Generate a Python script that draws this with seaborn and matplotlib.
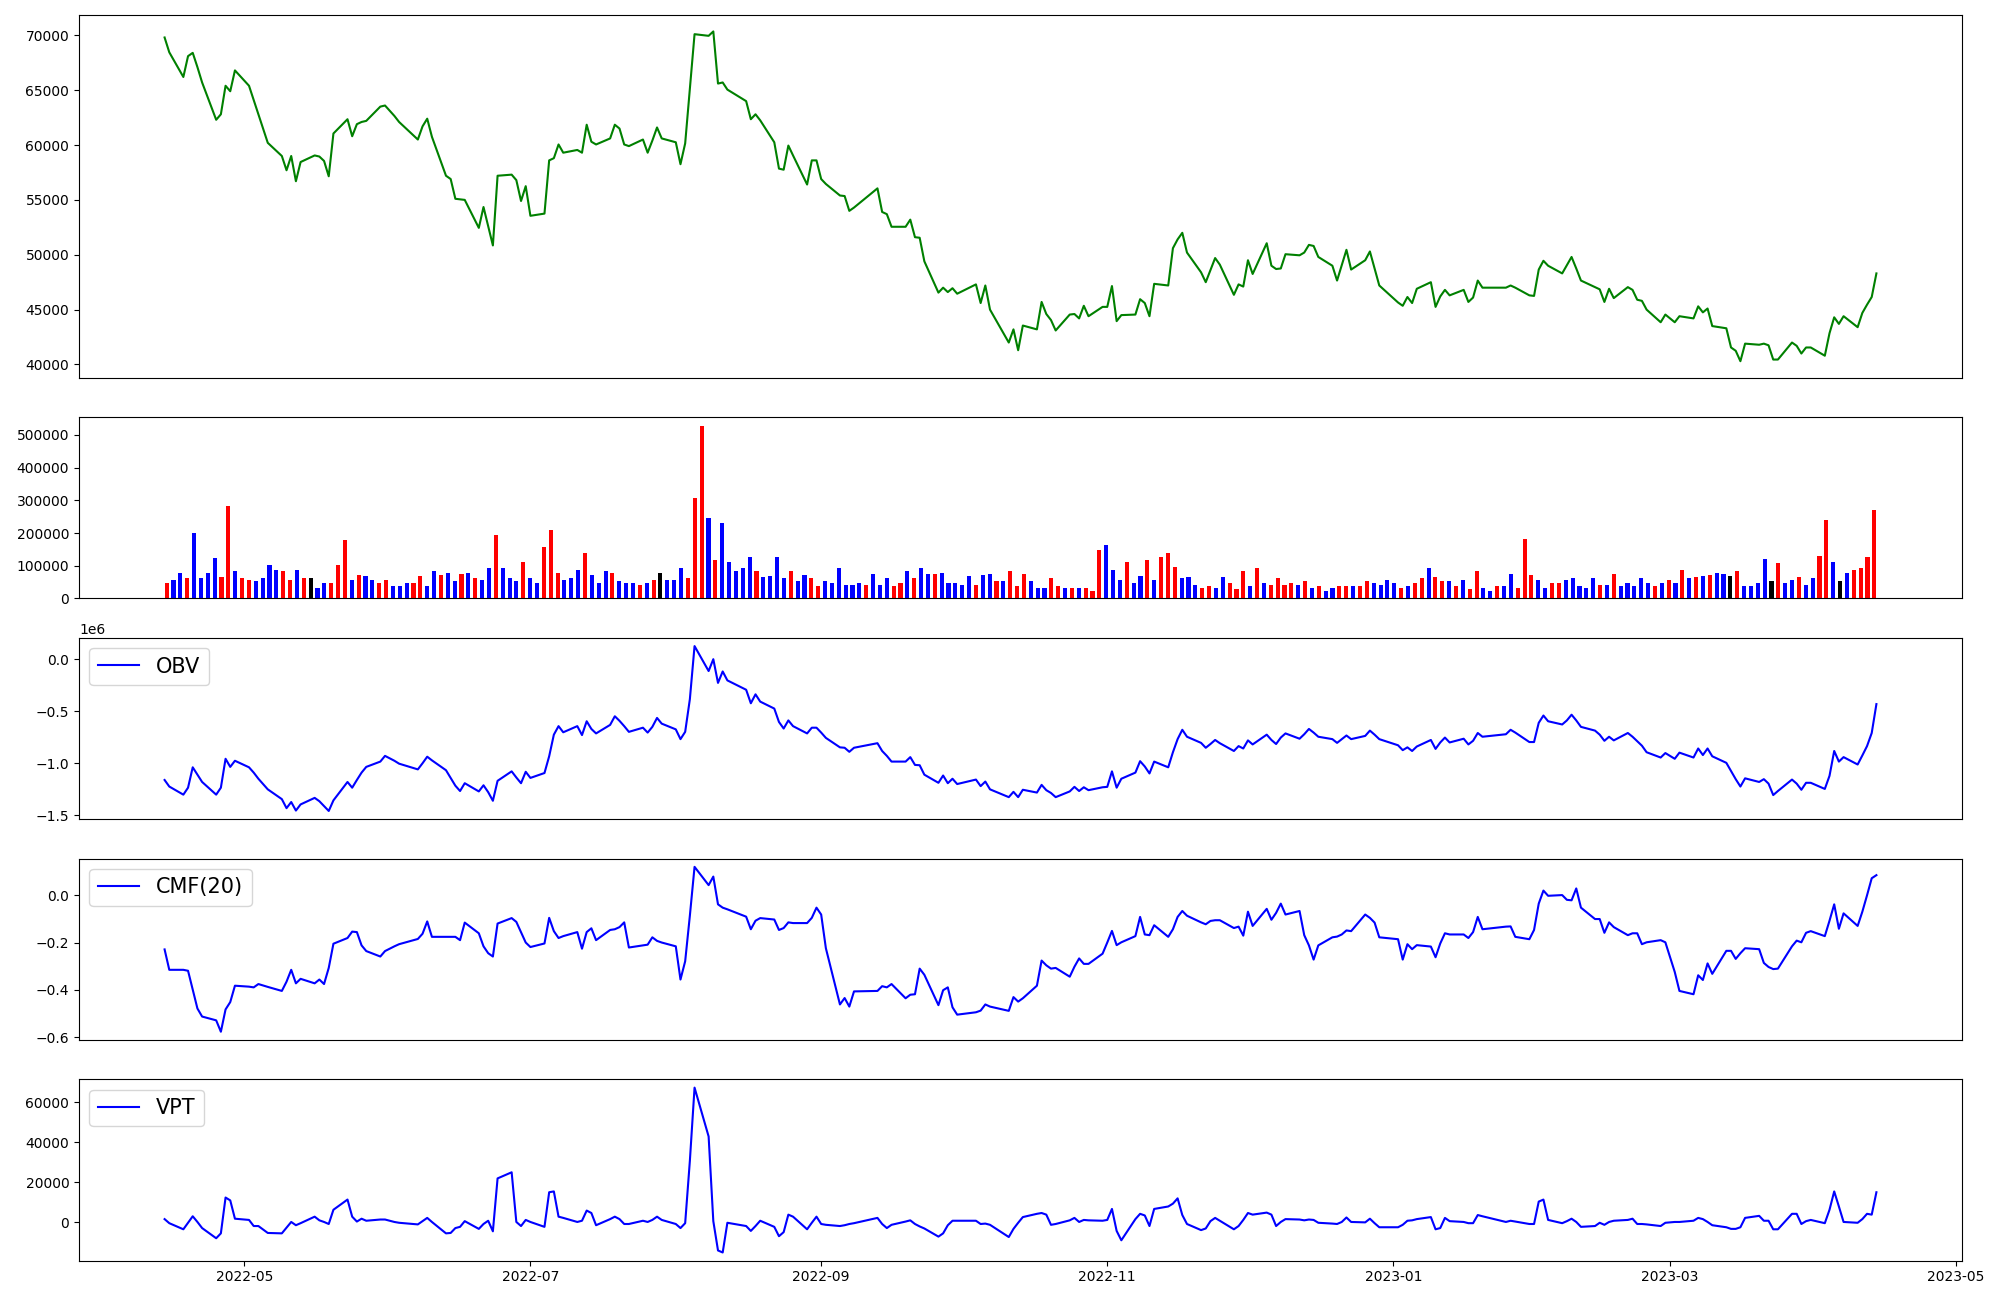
import numpy as np
import pandas as pd
import matplotlib
matplotlib.use("Agg")
import matplotlib.pyplot as plt
import matplotlib.dates as mdates
import seaborn as sns

# ---------------- data ----------------
start_date = "2022-04-14"
end_date = "2023-04-14"
market_holidays = ["2022-05-05", "2022-06-01", "2022-06-06", "2022-08-15",
                   "2022-09-09", "2022-09-12", "2022-10-03", "2022-10-10",
                   "2022-12-30", "2023-01-23", "2023-01-24", "2023-03-01"]

close = [
    # 2022-04
    69800, 68450, 66200, 68100, 68400, 67100, 65700, 62300, 62800, 65400, 64900, 66800,
    # 2022-05
    65400, 64100, 62800, 60200, 59000, 57700, 59000, 56700, 58450, 59050, 58950, 58550,
    57150, 61050, 62350, 60800, 61900, 62100, 62200, 63500, 63600,
    # 2022-06
    62650, 62100, 60500, 61700, 62400, 60750, 57200, 56900, 55100, 55050, 55000, 52450,
    54350, 52600, 50850, 57200, 57300, 56800, 54900, 56250,
    # 2022-07
    53550, 53750, 58600, 58800, 60050, 59300, 59550, 59300, 61850, 60300, 60050, 60600,
    61850, 61500, 60050, 59900, 60500, 59300, 60400, 61600, 60600,
    # 2022-08
    60250, 58250, 60150, 65150, 70100, 69950, 70350, 65600, 65700, 65050, 64000, 62350,
    62800, 62250, 60250, 57850, 57750, 59950, 59050, 56400, 58600, 58600,
    # 2022-09
    56900, 56450, 55400, 55350, 54000, 54300, 56050, 53900, 53700, 52550, 52550, 53200,
    51600, 51550, 49400, 46550, 47000, 46600, 46950, 46450,
    # 2022-10
    47300, 45600, 47200, 45000, 42000, 43200, 41300, 43550, 43200, 45700, 44600, 44050,
    43100, 44550, 44600, 44200, 45350, 44400, 45250,
    # 2022-11
    45250, 47150, 43950, 44500, 44550, 45950, 45600, 44400, 47350, 47200, 50600, 51400,
    52000, 50200, 48400, 47500, 48600, 49700, 49100, 46350, 47300, 47100,
    # 2022-12
    49500, 48250, 51050, 49000, 48700, 48750, 50050, 49950, 50200, 50900, 50800, 49800,
    49000, 47650, 49050, 50450, 48650, 49500, 50300, 48750, 47200,
    # 2023-01
    45650, 45350, 46150, 45600, 46900, 47500, 45250, 46200, 46800, 46300, 46800, 45700,
    46100, 47650, 47000, 47000, 47200, 47000, 46300, 46250,
    # 2023-02
    48650, 49450, 49000, 48300, 49050, 49800, 48750, 47650, 47050, 46850, 45700, 46900,
    46050, 47050, 46800, 45900, 45800, 45000, 43850, 44550,
    # 2023-03
    43850, 44400, 44200, 45300, 44750, 45100, 43500, 43300, 41550, 41250, 40300, 41900,
    41800, 41900, 41750, 40450, 40450, 42000, 41700, 41000, 41550, 41550,
    # 2023-04
    40800, 42850, 44300, 43700, 44400, 43400, 44700, 45450, 46150, 48300,
]

volume = [
    46000, 57000, 79000, 64000, 200000, 64000, 79000, 125000, 66000, 283000,
    83000, 61000, 57000, 52000, 61000, 103000, 88000, 85000, 57000, 88000,
    61000, 61000, 31000, 48000, 46000, 101000, 180000, 55000, 73000, 70000,
    55000, 48000, 55000, 39000, 39000, 46000, 48000, 70000, 37000, 85000,
    73000, 79000, 52000, 76000, 79000, 61000, 57000, 92000, 195000, 92000,
    64000, 52000, 110000, 64000, 48000, 158000, 210000, 79000, 57000, 61000,
    88000, 138000, 73000, 46000, 85000, 79000, 52000, 48000, 46000, 42000,
    46000, 55000, 79000, 55000, 55000, 92000, 64000, 308000, 528000, 247000,
    119000, 232000, 112000, 83000, 92000, 128000, 85000, 66000, 70000, 128000,
    64000, 83000, 52000, 73000, 61000, 39000, 52000, 48000, 92000, 42000,
    42000, 46000, 42000, 76000, 42000, 61000, 39000, 48000, 83000, 61000,
    94000, 76000, 76000, 79000, 48000, 48000, 42000, 70000, 42000, 73000,
    76000, 52000, 52000, 83000, 37000, 76000, 52000, 33000, 33000, 61000,
    37000, 33000, 33000, 31000, 31000, 24000, 149000, 162000, 88000, 55000,
    112000, 48000, 70000, 119000, 57000, 128000, 140000, 97000, 64000, 66000,
    42000, 31000, 37000, 31000, 66000, 46000, 28000, 83000, 39000, 94000,
    48000, 42000, 61000, 42000, 48000, 42000, 52000, 33000, 39000, 24000,
    33000, 37000, 39000, 39000, 37000, 52000, 46000, 42000, 55000, 46000,
    33000, 39000, 46000, 64000, 94000, 66000, 52000, 52000, 37000, 55000,
    28000, 83000, 33000, 24000, 37000, 39000, 76000, 33000, 182000, 73000,
    57000, 33000, 48000, 48000, 55000, 64000, 37000, 31000, 61000, 42000,
    42000, 76000, 39000, 48000, 37000, 64000, 48000, 39000, 48000, 55000,
    46000, 88000, 64000, 66000, 70000, 73000, 79000, 76000, 70000, 85000,
    39000, 37000, 46000, 122000, 52000, 107000, 48000, 55000, 66000, 42000,
    61000, 131000, 241000, 110000, 52000, 79000, 88000, 94000, 128000, 271000,
]

# candle direction of each volume bar: r = up, b = down, k = unchanged
candle = ("rbbrbbbbrr" "brrbbbbrrb" "rkbbrrrbrb" "brrbbbrrbb" "rbbrbrbbrb"
          "bbrbbrrrbb" "brbbbrbbbr" "brkbbbrrrb" "rbbbbbrbbb" "brbbrrbbbb"
          "bbrbbbrrbr" "bbrbbbbbrb" "brbrrrbbbr" "rbrbrrrbbb" "rbbrbrrrbb"
          "brrbbrrrbr" "brrrrbrbrb" "brrbrrbbbb" "rbrrbrrbrb" "rrbbrbbrrr"
          "bbrrbbbbbr" "brbbbbbrbr" "brbrbrbbkr" "bbbbkrbbrb" "brrbkbrrrr")

obv_millions = [
    -1.163, -1.226, -1.304, -1.237, -1.041, -1.112, -1.182, -1.304, -1.237, -0.959, -1.037, -0.978,
    -1.041, -1.092, -1.151, -1.253, -1.347, -1.434, -1.375, -1.457, -1.398, -1.335, -1.367, -1.414,
    -1.461, -1.359, -1.182, -1.237, -1.163, -1.092, -1.037, -0.986, -0.931,
    -0.978, -1.006, -1.061, -1.002, -0.939, -0.974, -1.069, -1.143, -1.218, -1.269, -1.194, -1.273,
    -1.214, -1.280, -1.363, -1.171, -1.080, -1.139, -1.194, -1.084,
    -1.143, -1.096, -0.935, -0.727, -0.645, -0.704, -0.645, -0.731, -0.598, -0.672, -0.715, -0.633,
    -0.550, -0.594, -0.645, -0.700, -0.660, -0.707, -0.652, -0.566, -0.621,
    -0.676, -0.770, -0.700, -0.386, 0.125, -0.115, -0.001, -0.229, -0.119, -0.205, -0.295, -0.425,
    -0.339, -0.409, -0.476, -0.605, -0.668, -0.590, -0.645, -0.715, -0.660, -0.660,
    -0.707, -0.758, -0.849, -0.853, -0.892, -0.853, -0.809, -0.884, -0.931, -0.986, -0.986, -0.943,
    -1.018, -1.021, -1.112, -1.190, -1.120, -1.194, -1.151, -1.202,
    -1.159, -1.222, -1.178, -1.253, -1.328, -1.277, -1.328, -1.257, -1.284, -1.210, -1.261, -1.288,
    -1.328, -1.273, -1.229, -1.269, -1.233, -1.261, -1.233,
    -1.229, -1.080, -1.237, -1.151, -1.092, -0.982, -1.033, -1.100, -0.986, -1.041, -0.896, -0.770,
    -0.680, -0.747, -0.806, -0.853, -0.817, -0.778, -0.809, -0.884, -0.837, -0.860,
    -0.782, -0.821, -0.727, -0.778, -0.817, -0.755, -0.715, -0.766, -0.723, -0.672, -0.707, -0.747,
    -0.770, -0.806, -0.770, -0.735, -0.770, -0.739, -0.688, -0.727, -0.770,
    -0.829, -0.876, -0.849, -0.884, -0.841, -0.778, -0.864, -0.802, -0.755, -0.802, -0.766, -0.821,
    -0.786, -0.711, -0.747, -0.723, -0.680, -0.707, -0.798, -0.798,
    -0.613, -0.543, -0.598, -0.629, -0.590, -0.535, -0.590, -0.652, -0.688, -0.727, -0.786, -0.747,
    -0.782, -0.711, -0.747, -0.790, -0.833, -0.896, -0.947, -0.904,
    -0.959, -0.900, -0.947, -0.860, -0.923, -0.860, -0.935, -0.998, -1.076, -1.155, -1.226, -1.147,
    -1.182, -1.155, -1.198, -1.308, -1.269, -1.159, -1.198, -1.257, -1.190, -1.190,
    -1.249, -1.123, -0.884, -0.986, -0.943, -1.014, -0.927, -0.837, -0.711, -0.433,
]

cmf_20 = [
    -0.229, -0.315, -0.315, -0.319, -0.398, -0.478, -0.512, -0.528, -0.576, -0.482, -0.451, -0.382,
    -0.386, -0.389, -0.375, -0.387, -0.404, -0.365, -0.315, -0.372, -0.353, -0.372, -0.356, -0.375,
    -0.307, -0.205, -0.181, -0.154, -0.156, -0.212, -0.236, -0.259, -0.236,
    -0.216, -0.207, -0.185, -0.163, -0.111, -0.176, -0.176, -0.176, -0.176, -0.190, -0.116, -0.161,
    -0.216, -0.245, -0.259, -0.120, -0.097, -0.113, -0.156, -0.200,
    -0.219, -0.204, -0.096, -0.152, -0.181, -0.173, -0.156, -0.226, -0.156, -0.140, -0.190, -0.147,
    -0.144, -0.135, -0.115, -0.221, -0.212, -0.209, -0.178, -0.193, -0.200,
    -0.216, -0.356, -0.279, -0.087, 0.119, 0.042, 0.078, -0.039, -0.053, -0.060, -0.091, -0.144,
    -0.108, -0.097, -0.103, -0.147, -0.139, -0.115, -0.118, -0.118, -0.096, -0.053,
    -0.082, -0.224, -0.461, -0.434, -0.470, -0.406, -0.404, -0.384, -0.389, -0.375, -0.435, -0.420,
    -0.418, -0.310, -0.336, -0.464, -0.401, -0.389, -0.473, -0.504,
    -0.494, -0.487, -0.461, -0.470, -0.488, -0.430, -0.449, -0.435, -0.382, -0.276, -0.296, -0.310,
    -0.307, -0.344, -0.302, -0.267, -0.290, -0.290, -0.247,
    -0.200, -0.151, -0.211, -0.199, -0.173, -0.092, -0.166, -0.169, -0.127, -0.176, -0.144, -0.092,
    -0.067, -0.087, -0.115, -0.123, -0.109, -0.106, -0.106, -0.139, -0.133, -0.171,
    -0.070, -0.130, -0.058, -0.104, -0.075, -0.036, -0.082, -0.067, -0.169, -0.212, -0.272, -0.212,
    -0.178, -0.175, -0.166, -0.149, -0.152, -0.082, -0.096, -0.116, -0.178,
    -0.186, -0.272, -0.207, -0.228, -0.211, -0.217, -0.262, -0.204, -0.161, -0.166, -0.166, -0.181,
    -0.156, -0.092, -0.144, -0.133, -0.132, -0.176, -0.186, -0.147,
    -0.036, 0.019, -0.003, 0.000, -0.020, -0.022, 0.028, -0.053, -0.101, -0.101, -0.159, -0.115,
    -0.135, -0.169, -0.161, -0.161, -0.207, -0.199, -0.190, -0.199,
    -0.324, -0.404, -0.418, -0.338, -0.358, -0.288, -0.332, -0.235, -0.235, -0.269, -0.245, -0.224,
    -0.228, -0.286, -0.303, -0.312, -0.310, -0.216, -0.192, -0.199, -0.159, -0.152,
    -0.173, -0.108, -0.039, -0.142, -0.077, -0.130, -0.070, -0.001, 0.071, 0.084,
]

vpt = [
    1653, -377, -3422, -174, 3074, 232, -2813, -7888, -5452, 12412, 10991, 1856,
    1247, -1798, -1798, -5249, -5452, -2610, 232, -1392, -377, 2871, 1044, 232,
    -783, 6322, 11397, 2871, 435, 1856, 841, 1450, 1450,
    232, -174, -986, 638, 2262, 232, -5452, -5249, -2813, -2204, 638, -3219,
    -783, 841, -4437, 21953, 24998, 232, -1798, 1247,
    232, -2204, 15051, 15457, 2871, 2262, 232, 841, 5916, 4698, -1392, 1653,
    2871, 1653, -783, -783, 841, 232, 1247, 2871, 1247,
    -783, -2813, -377, 30682, 67222, 42862, 638, -13978, -14993, -174, -1798, -4234,
    -1798, 841, -2204, -6873, -4843, 3886, 2871, -3422, -174, 2871,
    -783, -1189, -1798, -1392, -783, -377, 2262, -783, -2813, -1189, 435, 1044,
    -783, -2001, -3016, -7076, -5452, -1392, 841, 841,
    841, -783, -580, -1189, -7279, -3219, -174, 2668, 4292, 4698, 3886, -1189,
    -783, 1044, 2262, 232, 1247, 1044, 841,
    1247, 6728, -4234, -8903, 1653, 4292, 3480, -1798, 6728, 7946, 9367, 12006,
    3683, -783, -3828, -3016, 638, 2262, 841, -3422, -1798, 1247,
    4698, 3886, 4901, 3886, -1798, 232, 1653, 1450, 1044, 1450, 1247, -174,
    -580, -783, 232, 2465, 232, 29, 1856, -377, -2407,
    -2407, -1189, 841, 1044, 1653, 2668, -3422, -2813, 2262, 638, 232, -377,
    -377, 3683, 3074, 232, 841, 435, -783, -783,
    10382, 11397, 1247, -377, 638, 1856, 232, -2204, -1798, -174, -1189, 232,
    841, 1247, 1856, -783, -783, -986, -1798, -174,
    232, 232, 841, 2262, 1653, 232, -1392, -2407, -3219, -3219, -2407, 2262,
    3277, 841, 841, -3422, -3422, 4292, 4292, -783, 638, 1247,
    -377, 6322, 15457, 7946, 232, -174, 1653, 4292, 3886, 15051,
]

# ---------------- frame ----------------
dates = pd.bdate_range(start_date, end_date, freq="C", holidays=market_holidays)
df = pd.DataFrame({
    "date": dates,
    "close": close,
    "volume": volume,
    "candle": list(candle),
    "obv": np.array(obv_millions) * 1e6,
    "cmf": cmf_20,
    "vpt": vpt,
})
df["idx"] = np.arange(len(df))
n = len(df)

# ---------------- figure ----------------
fig = plt.figure(figsize=(20, 13), dpi=100)
gs = fig.add_gridspec(5, 1, height_ratios=[2, 1, 1, 1, 1],
                      left=0.0395, right=0.981, top=0.9885, bottom=0.0302,
                      hspace=0.181)
ax_price = fig.add_subplot(gs[0])
ax_vol = fig.add_subplot(gs[1])
ax_obv = fig.add_subplot(gs[2], sharex=ax_price)
ax_cmf = fig.add_subplot(gs[3], sharex=ax_price)
ax_vpt = fig.add_subplot(gs[4], sharex=ax_price)

# price
sns.lineplot(data=df, x="date", y="close", color="green", linewidth=1.5, ax=ax_price)

# volume bars (evenly spaced, one per trading day)
bar_w = 0.6
sns.barplot(data=df, x="idx", y="volume", hue="candle",
            palette={"r": "red", "b": "blue", "k": "black"},
            dodge=False, native_scale=True, width=bar_w, legend=False,
            errorbar=None, saturation=1, ax=ax_vol)
span = (n - 1) + bar_w
ax_vol.set_xlim(-bar_w / 2 - 0.05 * span, (n - 1) + bar_w / 2 + 0.05 * span)

# indicators
sns.lineplot(data=df, x="date", y="obv", color="blue", linewidth=1.5, label="OBV", ax=ax_obv)
sns.lineplot(data=df, x="date", y="cmf", color="blue", linewidth=1.5, label="CMF(20)", ax=ax_cmf)
sns.lineplot(data=df, x="date", y="vpt", color="blue", linewidth=1.5, label="VPT", ax=ax_vpt)

for ax in (ax_obv, ax_cmf, ax_vpt):
    ax.legend(loc="upper left", fontsize=15)

for ax in (ax_price, ax_vol, ax_obv, ax_cmf, ax_vpt):
    ax.set_xlabel("")
    ax.set_ylabel("")

for ax in (ax_price, ax_vol, ax_obv, ax_cmf):
    ax.tick_params(axis="x", which="both", bottom=False, labelbottom=False)

ax_vpt.xaxis.set_major_locator(mdates.MonthLocator(bymonth=[1, 3, 5, 7, 9, 11]))
ax_vpt.xaxis.set_major_formatter(mdates.DateFormatter("%Y-%m"))
ax_vpt.tick_params(axis="x", which="both", bottom=True, labelbottom=True)

fig.savefig("out.png", dpi=100)
